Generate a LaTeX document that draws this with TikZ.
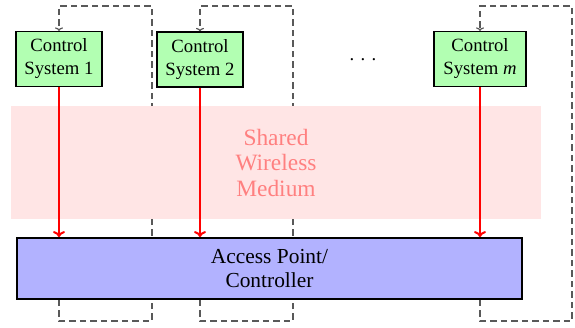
\documentclass[tikz,border=0pt]{standalone}
\usepackage{fontspec}
\setmainfont{LiberationSerif}[Extension=.ttf, UprightFont=*-Regular, ItalicFont=*-Italic, BoldFont=*-Bold]
\usetikzlibrary{arrows.meta}
\pgfdeclarelayer{bg}
\pgfsetlayers{bg,main}
\begin{document}
\begin{tikzpicture}[x=1pt,y=-1pt,
  cs/.style={draw=black, line width=1.2pt, fill=green!30, minimum height=55pt, inner sep=0pt, align=center, font=\rmfamily\fontsize{18.7}{23}\selectfont},
  ap/.style={draw=black, line width=1.8pt, fill=blue!30, minimum width=505pt, minimum height=61pt, inner sep=0pt, align=center, font=\rmfamily\fontsize{21.4}{24}\selectfont},
  medium/.style={fill=red!10, minimum width=530pt, minimum height=113pt, inner sep=0pt, align=center, text=red!50, font=\rmfamily\fontsize{23.4}{25.5}\selectfont},
  loopline/.style={draw=black!65, line width=1.2pt, dash pattern=on 6.5pt off 4pt},
  feed/.style={loopline, -{To[length=3.5pt,width=8pt]}},
  link/.style={draw=red, line width=2pt, -{To[length=6pt,width=12pt]}},
  dotsty/.style={font=\rmfamily\fontsize{18.7}{23}\selectfont, inner sep=0pt, anchor=base}]
\useasboundingbox (0,0) rectangle (575,328);

\node[medium] (med) at (276,162.5) {Shared\\Wireless\\Medium};

\node[cs, minimum width=86pt] (cs1) at (59,59) {Control\\System 1};
\node[cs, minimum width=86pt] (cs2) at (200,59.5) {Control\\System 2};
\node[cs, minimum width=92pt] (csm) at (480,59) {Control\\System \textit{m}};
\node[dotsty] (dots) at (363,61) {.\hspace{6.3pt}.\hspace{6.3pt}.};

\node[ap] (ap) at (269.5,268.5) {Access Point/\\Controller};

\coordinate (b1) at (59,321);  \coordinate (c1) at (152,321);
\coordinate (d1) at (152,6);   \coordinate (e1) at (59,6);
\coordinate (b2) at (200,321); \coordinate (c2) at (293,321);
\coordinate (d2) at (293,6);   \coordinate (e2) at (200,6);
\coordinate (bm) at (480,321); \coordinate (cm) at (572,321);
\coordinate (dm) at (572,6);   \coordinate (em) at (480,6);

\begin{pgfonlayer}{bg}
\draw[feed] (ap.south -| b1) -- (b1) -- (c1) -- (d1) -- (e1) -- (cs1.north);
\draw[feed] (ap.south -| b2) -- (b2) -- (c2) -- (d2) -- (e2) -- (cs2.north);
\draw[feed] (ap.south -| bm) -- (bm) -- (cm) -- (dm) -- (em) -- (csm.north);
\end{pgfonlayer}

\draw[link] (cs1.south) -- (cs1.south |- ap.north);
\draw[link] (cs2.south) -- (cs2.south |- ap.north);
\draw[link] (csm.south) -- (csm.south |- ap.north);
\end{tikzpicture}
\end{document}
